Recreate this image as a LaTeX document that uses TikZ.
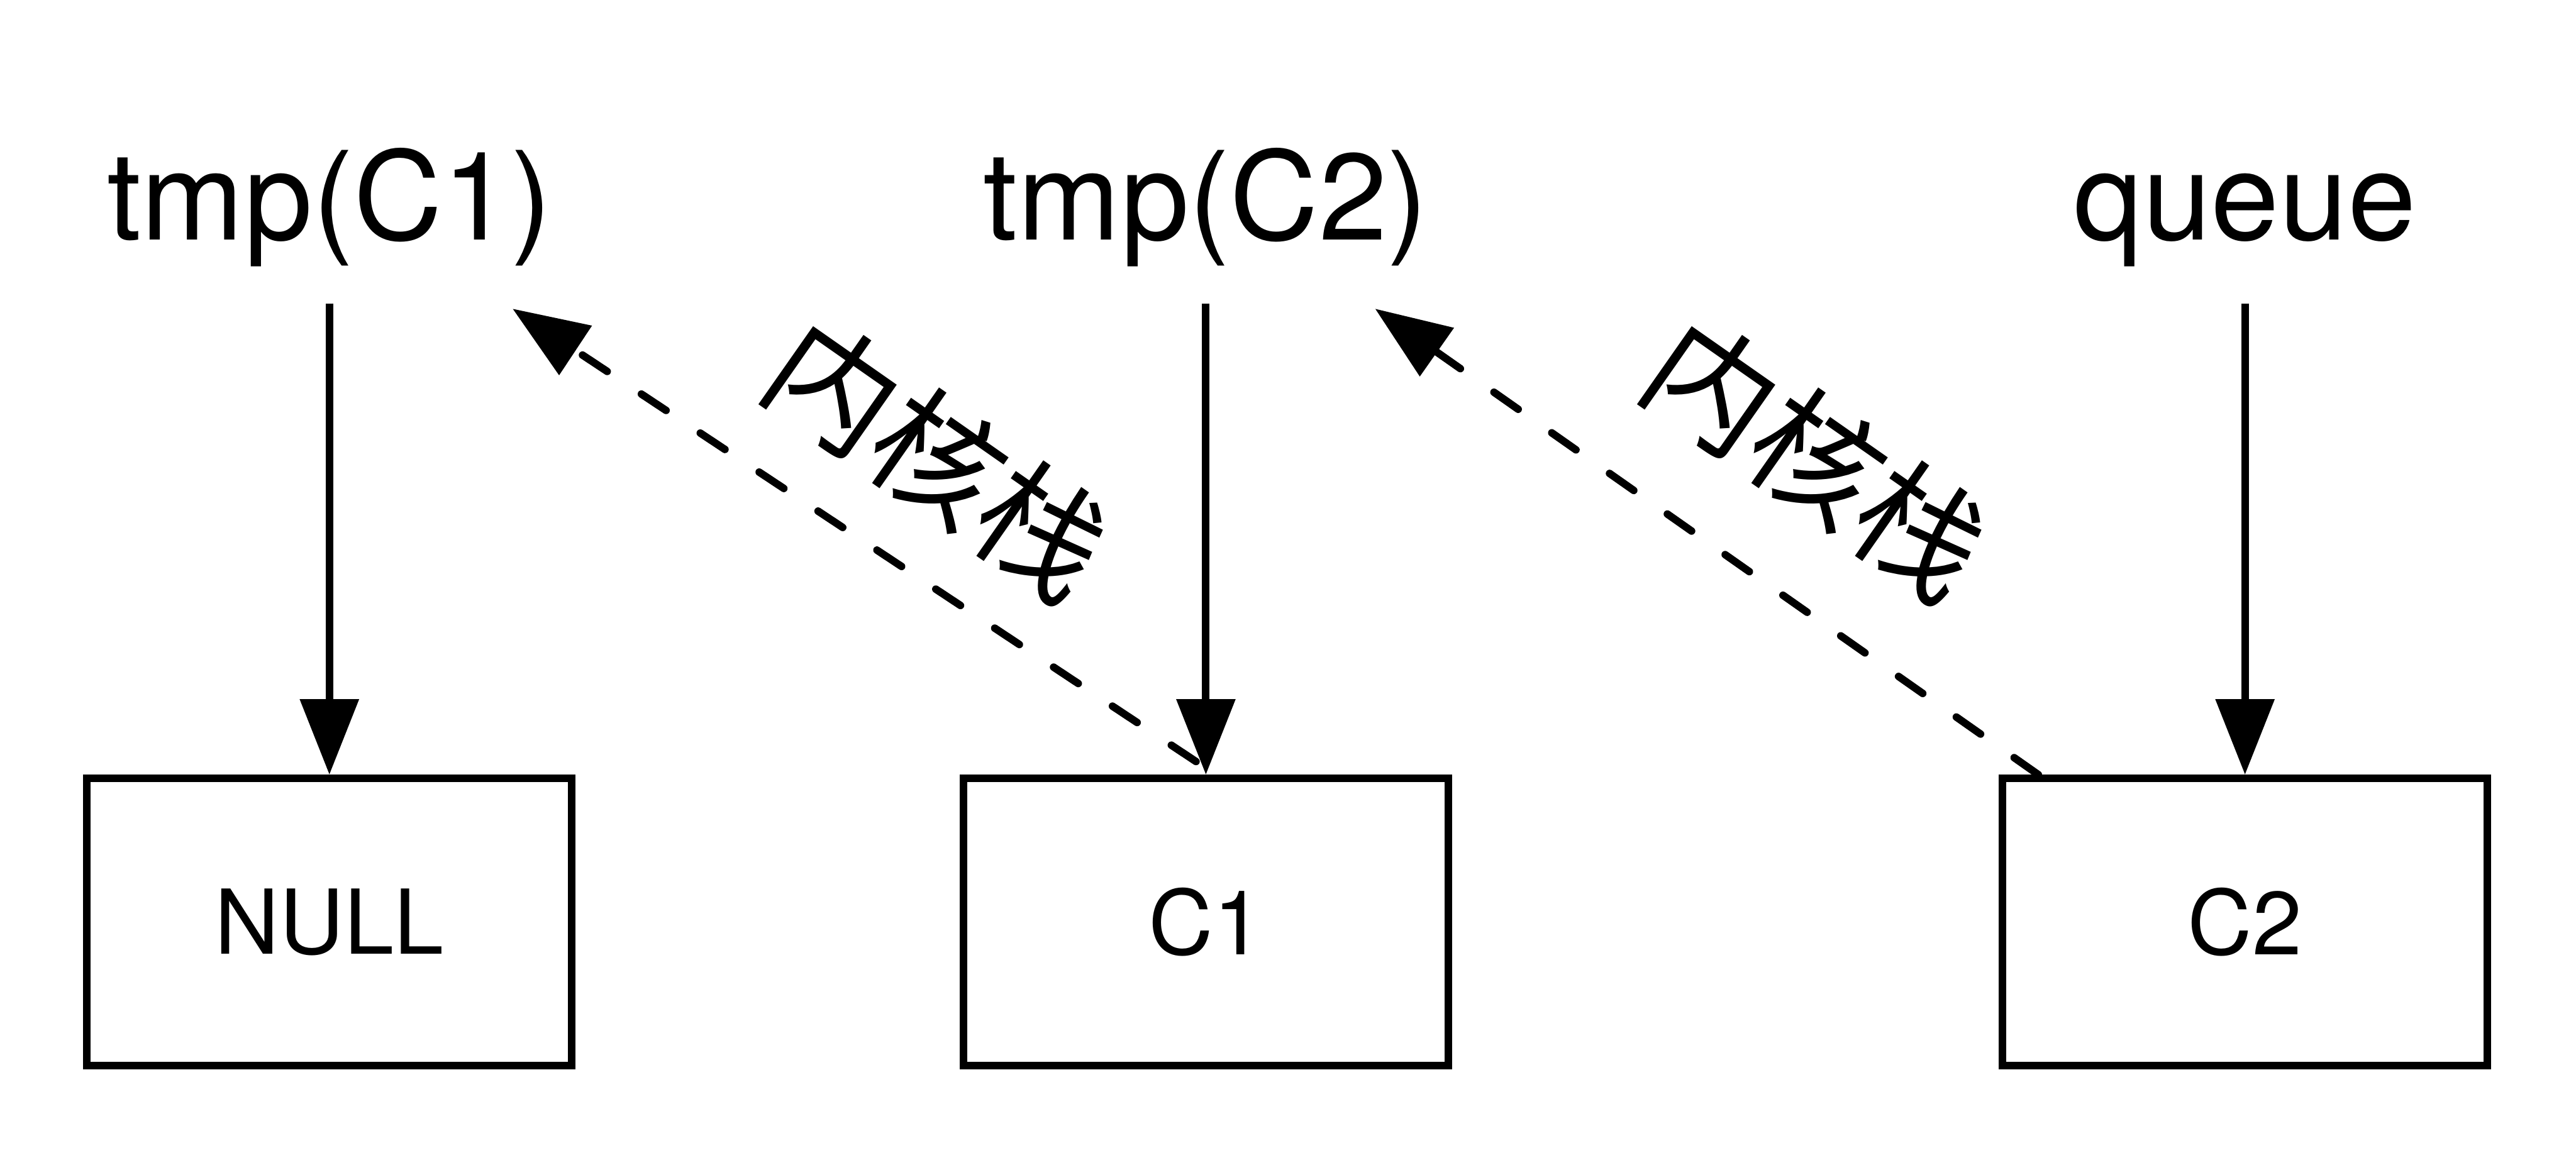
\documentclass[tikz,border=0pt]{standalone}
\usepackage{fontspec}
\setmainfont{TeX Gyre Heros}
\newfontfamily\cjkfont{Noto Sans CJK SC}
\usepackage{tikz}
\usetikzlibrary{arrows.meta, positioning, calc}

\begin{document}
\begin{tikzpicture}[
  box/.style={draw, line width=1.3pt, minimum width=2.95cm, minimum height=1.75cm, inner sep=0pt, font=\fontsize{15.5}{18}\selectfont},
  ptr/.style={anchor=base, font=\fontsize{21.3}{25}\selectfont},
  arr/.style={-{Triangle[width=0.35cm, length=0.46cm]}, line width=1.3pt},
  stackarr/.style={arr, dash pattern=on 0.18cm off 0.25cm, line cap=round},
  stacklabel/.style={font=\cjkfont\fontsize{22}{26}\selectfont}
]
\useasboundingbox (0,-7.05) rectangle (15.68,0);

% variables
\node[ptr] (tmp1) at (2.005,-1.46) {tmp(C1)};
\node[ptr] (tmp2) at (7.34,-1.46) {tmp(C2)};
\node[ptr] (queue) at (13.665,-1.46) {queue};

% objects
\node[box] (null) at (2.005,-5.615) {NULL};
\node[box] (c1) at (7.34,-5.615) {C1};
\node[box] (c2) at (13.665,-5.615) {C2};

\draw[arr] ([yshift=-0.1cm]tmp1.south -| null.north) -- (null.north);
\draw[arr] ([yshift=-0.1cm]tmp2.south -| c1.north) -- (c1.north);
\draw[arr] ([yshift=-0.1cm]queue.south -| c2.north) -- (c2.north);

% kernel stack links
\coordinate (tip1) at (3.12,-1.88);
\coordinate (tip2) at (8.37,-1.88);
\draw[stackarr] ([xshift=-0.06cm, yshift=0.08cm]c1.north) -- (tip1);
\draw[stackarr] ([xshift=0.24cm]c2.north west) -- (tip2);
\node[stacklabel, rotate=-35] (k1) at (5.71,-2.79) {内核栈};
\node[stacklabel, rotate=-35] (k2) at (11.06,-2.79) {内核栈};
\end{tikzpicture}
\end{document}
